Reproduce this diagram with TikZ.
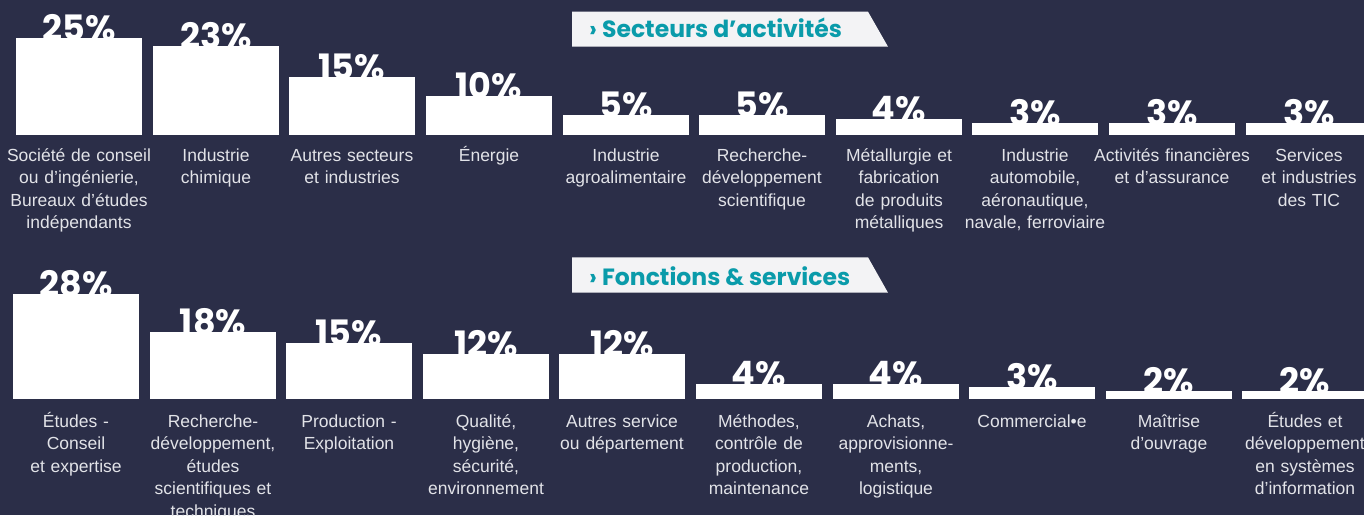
\documentclass[tikz,border=0pt]{standalone}
\usepackage{fontspec}
\setmainfont{Liberation Sans}
\newfontfamily\poppins{Poppins}
\usetikzlibrary{positioning}
\definecolor{navy}{HTML}{2B2E48}
\definecolor{headteal}{HTML}{0A9BAA}
\definecolor{boxfill}{HTML}{F3F3F5}
\definecolor{lblgray}{HTML}{E2E3E8}
\begin{document}
\begin{tikzpicture}[x=1pt,y=1pt,
	bar/.style={rectangle,fill=white,inner sep=0pt,outer sep=0pt,minimum width=126pt,anchor=south},
	pct/.style={anchor=base,inner sep=0pt,yshift=-2pt,text=white,font=\poppins\bfseries\fontsize{35}{35}\selectfont},
	lbl/.style={align=center,text width=164pt,inner sep=0pt,text=lblgray,font=\fontsize{17.5}{22.5}\selectfont,execute at begin node={\rule{0pt}{17pt}}},
	head/.style={anchor=base west,inner sep=0pt,text=headteal,font=\poppins\bfseries\fontsize{23.5}{23.5}\selectfont}]
	\useasboundingbox (0,0) rectangle (1364,515);
	\clip (0,0) rectangle (1364,515);
	\fill[navy] (0,0) rectangle (1364,515);
	% secteurs
	\fill[boxfill] (572,503.3) -- (868,503.3) -- (888,468.3) -- (572,468.3) -- cycle;
	\node[head] (secteurs) at (589,477.7) {› Secteurs d’activités};
	\node[pct] (ps1) at (79,380+96.7) {25\%};
	\node[bar,minimum height=96.7pt] (s1) at (79,380) {};
	\node[lbl,below=9pt of s1] (ls1) {Société de conseil\\ou d’ingénierie,\\Bureaux d'études\\indépendants};
	\node[pct] (ps2) at (216,380+88.7) {23\%};
	\node[bar,minimum height=88.7pt] (s2) at (216,380) {};
	\node[lbl,below=9pt of s2] (ls2) {Industrie\\chimique};
	\node[pct] (ps3) at (352,380+57.7) {15\%};
	\node[bar,minimum height=57.7pt] (s3) at (352,380) {};
	\node[lbl,below=9pt of s3] (ls3) {Autres secteurs\\et industries};
	\node[pct] (ps4) at (489,380+38.7) {10\%};
	\node[bar,minimum height=38.7pt] (s4) at (489,380) {};
	\node[lbl,below=9pt of s4] (ls4) {Énergie};
	\node[pct] (ps5) at (626,380+19.7) {5\%};
	\node[bar,minimum height=19.7pt] (s5) at (626,380) {};
	\node[lbl,below=9pt of s5] (ls5) {Industrie\\agroalimentaire};
	\node[pct] (ps6) at (762,380+19.7) {5\%};
	\node[bar,minimum height=19.7pt] (s6) at (762,380) {};
	\node[lbl,below=9pt of s6] (ls6) {Recherche-\\développement\\scientifique};
	\node[pct] (ps7) at (899,380+15.7) {4\%};
	\node[bar,minimum height=15.7pt] (s7) at (899,380) {};
	\node[lbl,below=9pt of s7] (ls7) {Métallurgie et\\fabrication\\de produits\\métalliques};
	\node[pct] (ps8) at (1035,380+11.7) {3\%};
	\node[bar,minimum height=11.7pt] (s8) at (1035,380) {};
	\node[lbl,below=9pt of s8] (ls8) {Industrie\\automobile,\\aéronautique,\\navale, ferroviaire};
	\node[pct] (ps9) at (1172,380+11.7) {3\%};
	\node[bar,minimum height=11.7pt] (s9) at (1172,380) {};
	\node[lbl,below=9pt of s9] (ls9) {Activités financières\\et d’assurance};
	\node[pct] (ps10) at (1309,380+11.7) {3\%};
	\node[bar,minimum height=11.7pt] (s10) at (1309,380) {};
	\node[lbl,below=9pt of s10] (ls10) {Services\\et industries\\des TIC};
	% fonctions
	\fill[boxfill] (572,257.7) -- (868,257.7) -- (888,222.3) -- (572,222.3) -- cycle;
	\node[head] (fonctions) at (589,230) {› Fonctions \& services};
	\node[pct] (pf1) at (76,116+104.7) {28\%};
	\node[bar,minimum height=104.7pt] (f1) at (76,116) {};
	\node[lbl,below=11pt of f1] (lf1) {Études -\\Conseil\\et expertise};
	\node[pct] (pf2) at (213,116+66.7) {18\%};
	\node[bar,minimum height=66.7pt] (f2) at (213,116) {};
	\node[lbl,below=11pt of f2] (lf2) {Recherche-\\développement,\\études\\scientifiques et\\techniques};
	\node[pct] (pf3) at (349,116+55.7) {15\%};
	\node[bar,minimum height=55.7pt] (f3) at (349,116) {};
	\node[lbl,below=11pt of f3] (lf3) {Production -\\Exploitation};
	\node[pct] (pf4) at (486,116+44.7) {12\%};
	\node[bar,minimum height=44.7pt] (f4) at (486,116) {};
	\node[lbl,below=11pt of f4] (lf4) {Qualité,\\hygiène,\\sécurité,\\environnement};
	\node[pct] (pf5) at (622,116+44.7) {12\%};
	\node[bar,minimum height=44.7pt] (f5) at (622,116) {};
	\node[lbl,below=11pt of f5] (lf5) {Autres service\\ou département};
	\node[pct] (pf6) at (759,116+14.7) {4\%};
	\node[bar,minimum height=14.7pt] (f6) at (759,116) {};
	\node[lbl,below=11pt of f6] (lf6) {Méthodes,\\contrôle de\\production,\\maintenance};
	\node[pct] (pf7) at (896,116+14.7) {4\%};
	\node[bar,minimum height=14.7pt] (f7) at (896,116) {};
	\node[lbl,below=11pt of f7] (lf7) {Achats,\\approvisionne-\\ments,\\logistique};
	\node[pct] (pf8) at (1032,116+11.7) {3\%};
	\node[bar,minimum height=11.7pt] (f8) at (1032,116) {};
	\node[lbl,below=11pt of f8] (lf8) {Commercial•e};
	\node[pct] (pf9) at (1169,116+7.7) {2\%};
	\node[bar,minimum height=7.7pt] (f9) at (1169,116) {};
	\node[lbl,below=11pt of f9] (lf9) {Maîtrise\\d'ouvrage};
	\node[pct] (pf10) at (1305,116+7.7) {2\%};
	\node[bar,minimum height=7.7pt] (f10) at (1305,116) {};
	\node[lbl,below=11pt of f10] (lf10) {Études et\\développement\\en systèmes\\d'information};
\end{tikzpicture}
\end{document}
